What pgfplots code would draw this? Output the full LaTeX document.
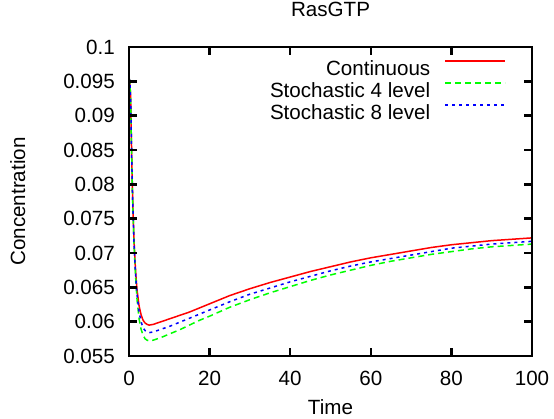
\documentclass[border=0pt]{standalone}
\usepackage{pgfplots}
\pgfplotsset{compat=1.18}
\usepackage{pgfplotstable}
\usepackage{fontspec}
\setmainfont{Liberation Sans}

\pgfplotstableread{
t red blue green
0 0.0955 0.0955 0.0955
0.2 0.0950 0.0950 0.0950
0.4 0.0928 0.0927 0.0926
0.6 0.0862 0.0861 0.0860
0.8 0.0806 0.0804 0.0803
1 0.0761 0.0759 0.0757
1.25 0.0718 0.0715 0.0713
1.5 0.0687 0.0683 0.0680
1.75 0.0664 0.0659 0.0654
2 0.0646 0.0639 0.0632
2.5 0.0623 0.0614 0.0604
3 0.0610 0.0600 0.0589
3.5 0.0602 0.0591 0.0580
4 0.0598 0.0587 0.0575
4.5 0.0596 0.0585 0.0573
5 0.0595 0.0584 0.0572
6 0.0596 0.0585 0.0573
7 0.0598 0.0587 0.0575
8 0.0600 0.0589 0.0577
10 0.0604 0.0593 0.0582
12.5 0.0609 0.0599 0.0588
15 0.0614 0.0605 0.0595
17.5 0.0620 0.0611 0.0602
20 0.0626 0.0617 0.0608
25 0.0638 0.0629 0.0621
30 0.0648 0.0640 0.0632
35 0.0657 0.0649 0.0642
40 0.0665 0.0658 0.0651
45 0.0673 0.0666 0.0660
50 0.0680 0.0674 0.0668
55 0.0687 0.0681 0.0675
60 0.0693 0.0687 0.0682
65 0.0698 0.0692 0.0688
70 0.0703 0.0697 0.0693
75 0.0708 0.0702 0.0698
80 0.0712 0.0707 0.0702
85 0.0715 0.0710 0.0706
90 0.0718 0.0713 0.0709
95 0.0720 0.0715 0.0711
100 0.0722 0.0717 0.0713
}\datatable

\begin{document}
\fontsize{20.6bp}{24bp}\selectfont
\begin{tikzpicture}
\begin{axis}[
  at={(129bp,63bp)}, anchor=south west,
  scale only axis, width=403bp, height=309bp,
  xmin=0, xmax=100, ymin=0.055, ymax=0.1,
  xtick={0,20,40,60,80,100},
  ytick={0.055,0.06,0.065,0.07,0.075,0.08,0.085,0.09,0.095,0.1},
  yticklabels={0.055,0.06,0.065,0.07,0.075,0.08,0.085,0.09,0.095,0.1},
  xticklabels={0,20,40,60,80,100},
  tick pos=both, tick align=inside,
  major tick length=8bp,
  every tick/.style={black, line width=2.5bp},
  axis line style={black, line width=2.5bp},
  axis on top,
  clip=true,
  xticklabel style={anchor=base, inner sep=0pt, yshift=-30bp},
  yticklabel style={anchor=east, inner sep=0pt, xshift=-14bp},
  title={RasGTP},
  title style={at={(axis description cs:0.5,1.078)}, anchor=base, inner sep=0pt},
  xlabel={Time},
  xlabel style={at={(axis description cs:0.5,-0.188)}, anchor=base, inner sep=0pt},
  ylabel={Concentration},
  ylabel style={at={(axis description cs:-0.258,0.5)}, anchor=base, inner sep=0pt},
  legend plot pos=right,
  legend cell align=right,
  legend style={at={(axis description cs:0.9355,0.958)}, anchor=north east,
    draw=none, fill=none, inner sep=0pt, column sep=14bp, row sep=6.5bp,
    nodes={inner sep=0pt, text height=14.75bp, text depth=0bp}},
  legend image code/.code={\draw[#1] (0bp,7.4bp) -- (60bp,7.4bp);},
]
\addplot[red, line width=1.5bp] table[x=t, y=red] {\datatable};
\addlegendentry{Continuous}
\addplot[green, line width=1.5bp, dash pattern=on 6bp off 4bp] table[x=t, y=green] {\datatable};
\addlegendentry{Stochastic 4 level}
\addplot[blue, line width=1.5bp, dash pattern=on 3bp off 4bp] table[x=t, y=blue] {\datatable};
\addlegendentry{Stochastic 8 level}
\end{axis}
\pgfresetboundingbox
\path[use as bounding box] (0,0) rectangle (554bp,419bp);
\end{tikzpicture}
\end{document}
